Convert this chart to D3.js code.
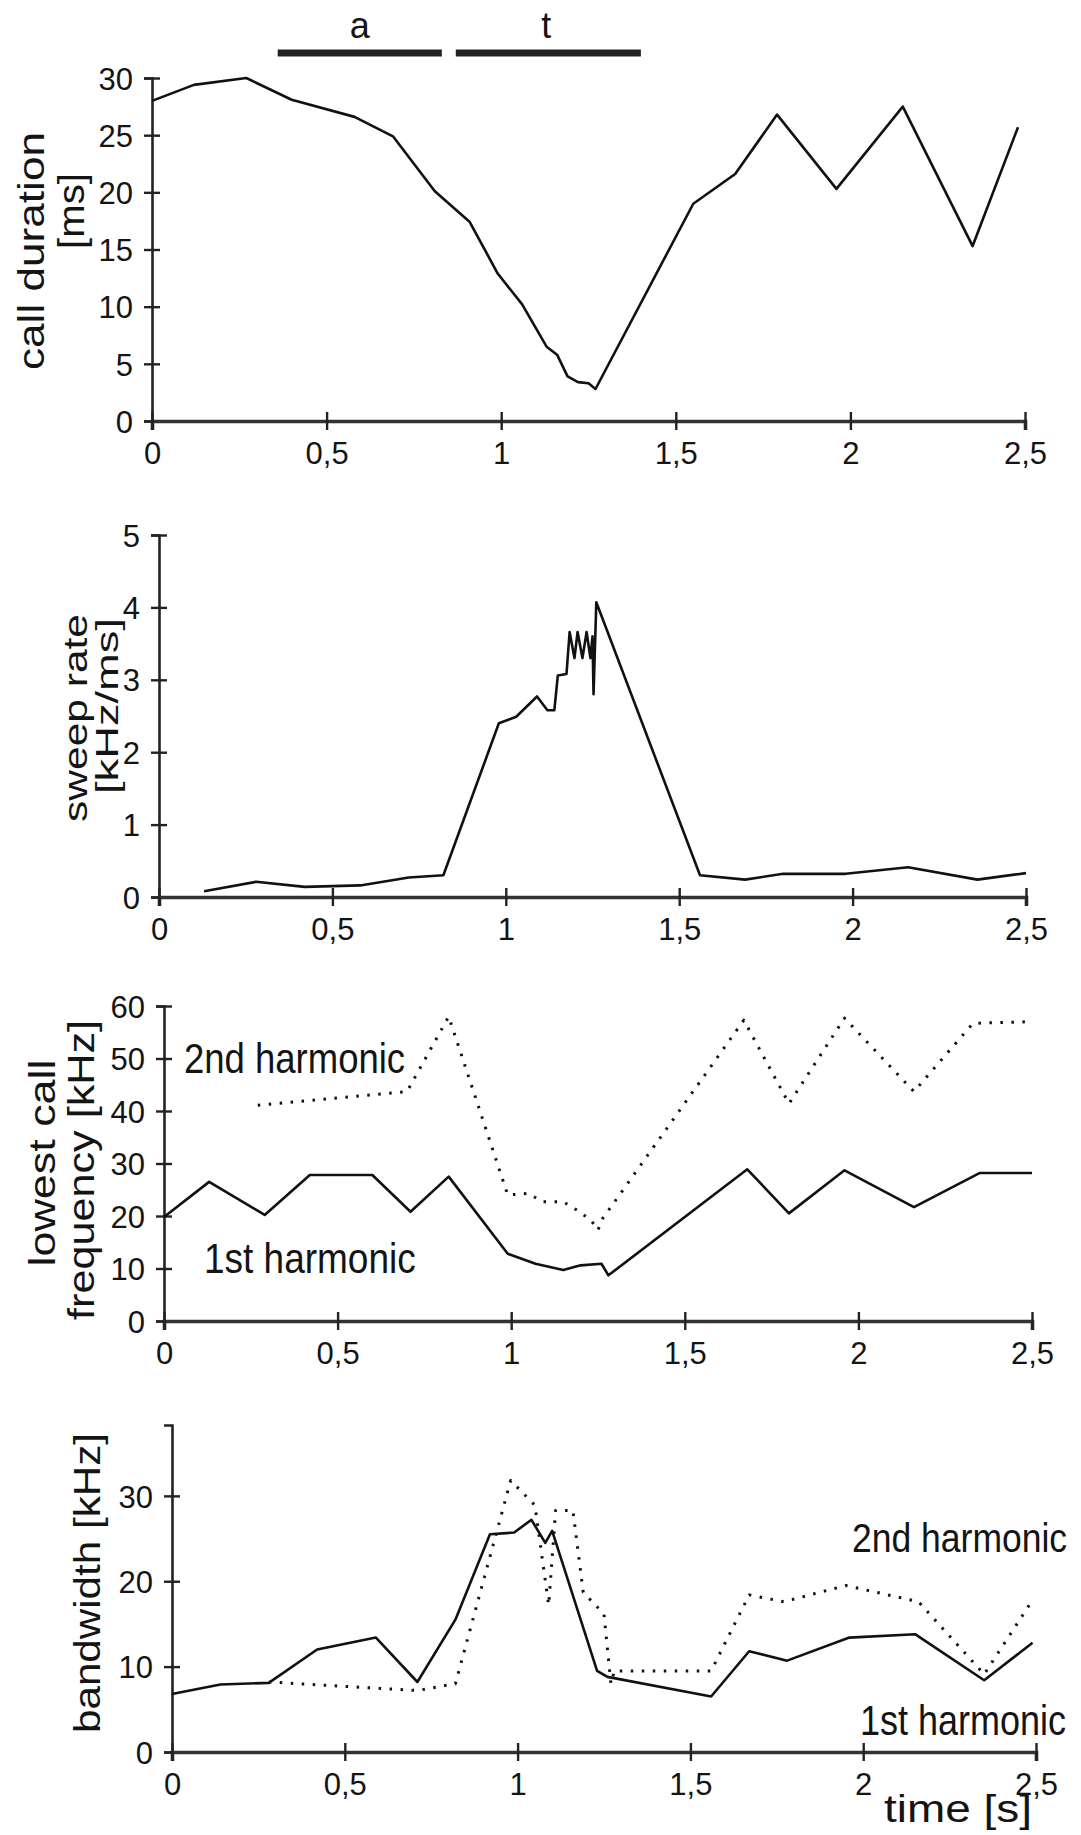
<!DOCTYPE html>
<html>
<head>
<meta charset="utf-8">
<script src="https://cdn.jsdelivr.net/npm/d3@7"></script>
<style>
  html, body { margin: 0; padding: 0; background: #fff; }
  svg { display: block; }
  text { font-family: "Liberation Sans", Arial, sans-serif; fill: #141414; }
</style>
</head>
<body>
<svg id="chart" width="1081" height="1835"></svg>
<script>
// ---------------- DATA ----------------
const xTicks = [0, 0.5, 1, 1.5, 2, 2.5];
const xTickLabels = ["0", "0,5", "1", "1,5", "2", "2,5"];

const durationTicks = [0, 5, 10, 15, 20, 25, 30];
const sweepTicks = [0, 1, 2, 3, 4, 5];
const freqTicks = [0, 10, 20, 30, 40, 50, 60];
const bandwidthTicks = [0, 10, 20, 30];

// phases shown above the first panel: [start, end] in s
const phaseNames = ["a", "t"];
const phaseStart = [0.36, 0.87];
const phaseEnd = [0.83, 1.40];

// call duration [ms] vs time [s]
const callDuration = [
  [0, 28.0], [0.12, 29.4], [0.27, 30.0], [0.40, 28.1], [0.58, 26.6], [0.69, 24.9],
  [0.81, 20.1], [0.91, 17.4], [0.99, 12.9], [1.06, 10.2], [1.13, 6.5], [1.16, 5.8],
  [1.19, 3.9], [1.22, 3.4], [1.25, 3.3], [1.27, 2.8], [1.55, 19.0], [1.67, 21.6],
  [1.79, 26.8], [1.96, 20.3], [2.15, 27.5], [2.35, 15.3], [2.48, 25.7]
];

// sweep rate [kHz/ms]
const sweepRate = [
  [0.13, 0.08], [0.28, 0.21], [0.42, 0.14], [0.58, 0.16], [0.72, 0.27], [0.82, 0.30],
  [0.98, 2.40], [1.03, 2.49], [1.09, 2.77], [1.12, 2.58], [1.14, 2.58], [1.15, 3.06],
  [1.175, 3.08], [1.184, 3.66], [1.198, 3.30], [1.207, 3.66], [1.221, 3.30],
  [1.233, 3.66], [1.244, 3.30], [1.25, 3.60], [1.253, 2.80], [1.261, 4.07],
  [1.56, 0.30], [1.69, 0.24], [1.80, 0.32], [1.98, 0.32], [2.16, 0.41], [2.36, 0.24], [2.50, 0.33]
];

// lowest call frequency [kHz]
const freq1st = [
  [0, 19.8], [0.13, 26.5], [0.29, 20.2], [0.42, 27.8], [0.60, 27.8], [0.71, 20.8],
  [0.82, 27.5], [0.99, 12.8], [1.07, 10.9], [1.15, 9.7], [1.20, 10.6], [1.26, 10.9],
  [1.28, 8.7], [1.68, 28.9], [1.80, 20.5], [1.96, 28.7], [2.16, 21.7], [2.35, 28.2], [2.50, 28.2]
];
const freq2nd = [
  [0.27, 41.1], [0.70, 43.7], [0.82, 58.0], [0.99, 24.0], [1.05, 24.3], [1.09, 22.7],
  [1.15, 22.7], [1.19, 21.1], [1.23, 19.2], [1.25, 17.3], [1.26, 19.2], [1.67, 57.3],
  [1.80, 41.4], [1.96, 57.7], [2.16, 43.7], [2.33, 56.7], [2.49, 57.0]
];

// bandwidth [kHz]
const bw1st = [
  [0, 6.8], [0.14, 7.9], [0.28, 8.1], [0.42, 12.0], [0.59, 13.4], [0.71, 8.2],
  [0.82, 15.5], [0.92, 25.5], [0.99, 25.7], [1.04, 27.2], [1.08, 24.5], [1.10, 25.9],
  [1.23, 9.5], [1.26, 8.8], [1.56, 6.5], [1.67, 11.8], [1.78, 10.7], [1.96, 13.4],
  [2.15, 13.8], [2.35, 8.4], [2.49, 12.8]
];
const bw2nd = [
  [0.28, 8.2], [0.71, 7.2], [0.82, 8.0], [0.98, 31.8], [1.05, 28.9], [1.09, 17.2],
  [1.11, 28.3], [1.16, 28.3], [1.19, 18.7], [1.23, 17.0], [1.25, 16.1], [1.27, 8.0],
  [1.28, 9.5], [1.56, 9.5], [1.67, 18.4], [1.77, 17.6], [1.95, 19.5], [2.16, 17.6],
  [2.35, 9.1], [2.49, 17.8]
];

// ---------------- DRAWING ----------------
const svg = d3.select("#chart");
const fmtX = d => xTickLabels[xTicks.indexOf(d)];
const fmtY = d => String(d);

function panel(cfg) {
  const x = d3.scaleLinear().domain([0, 2.5]).range([cfg.x0, cfg.x1]);
  const y = d3.scaleLinear().domain([0, cfg.yMax]).range([cfg.y0, cfg.y1]);
  const g = svg.append("g");

  // y axis
  const ya = g.append("g").attr("transform", `translate(${cfg.x0},0)`)
    .call(d3.axisLeft(y).tickValues(cfg.yTicks).tickFormat(fmtY).tickSizeOuter(0).tickSize(8).tickPadding(0));
  ya.select(".domain").attr("stroke", "#222").attr("stroke-width", 2.6);
  ya.selectAll(".tick line").attr("x1", -8).attr("x2", 8).attr("stroke", "#222").attr("stroke-width", 2.4);
  ya.selectAll(".tick text").attr("x", -19).attr("dy", "0.36em")
    .style("font-size", "31px").style("font-family", "'Liberation Sans', Arial, sans-serif").attr("fill", "#141414");

  // x axis
  const xa = g.append("g").attr("transform", `translate(0,${cfg.y0})`)
    .call(d3.axisBottom(x).tickValues(xTicks).tickFormat(fmtX).tickSizeOuter(0).tickSize(9).tickPadding(0));
  xa.select(".domain").attr("stroke", "#333").attr("stroke-width", 3.6);
  xa.selectAll(".tick line").attr("y1", -9).attr("y2", 9).attr("stroke", "#222").attr("stroke-width", 2.4);
  xa.selectAll(".tick text").attr("y", 43).attr("dy", 0)
    .style("font-size", "31px").style("font-family", "'Liberation Sans', Arial, sans-serif").attr("fill", "#141414");

  const line = d3.line().x(d => x(d[0])).y(d => y(d[1]));
  cfg.series.forEach(s => {
    g.append("path").datum(s.data).attr("d", line).attr("fill", "none")
      .attr("stroke", "#111").attr("stroke-width", s.dotted ? 3 : 2.6)
      .attr("stroke-linejoin", "round")
      .attr("stroke-dasharray", s.dotted ? "2.5 8.5" : null);
  });

  // y-axis titles (rotated)
  cfg.titles.forEach(t => {
    g.append("text")
      .attr("transform", `translate(${t.bx},${t.cy}) rotate(-90)`)
      .attr("text-anchor", "middle")
      .attr("textLength", t.len).attr("lengthAdjust", "spacingAndGlyphs")
      .style("font-size", (t.size || 36) + "px")
      .text(t.text);
  });

  // series labels: tall, condensed look
  (cfg.labels || []).forEach(l => {
    g.append("text")
      .attr("transform", `translate(${l.x},${l.y}) scale(1,1.16)`)
      .style("font-size", l.size + "px")
      .text(l.text);
  });
  return { x, y, g };
}

// Panel 1: call duration
const p1 = panel({
  x0: 152, x1: 1025, y0: 421, y1: 78, yMax: 30, yTicks: durationTicks,
  series: [{ data: callDuration }],
  titles: [
    { text: "call duration", bx: 44, cy: 251, len: 238 },
    { text: "[ms]", bx: 84, cy: 211, len: 76 }
  ]
});
// phase bars above panel 1
phaseNames.forEach((n, i) => {
  p1.g.append("line")
    .attr("x1", p1.x(phaseStart[i])).attr("x2", p1.x(phaseEnd[i]))
    .attr("y1", 53).attr("y2", 53)
    .attr("stroke", "#222").attr("stroke-width", 7);
  p1.g.append("text")
    .attr("x", p1.x((phaseStart[i] + phaseEnd[i]) / 2) + (i === 0 ? 0 : -2))
    .attr("y", 38).attr("text-anchor", "middle")
    .style("font-size", "36px").text(n);
});

// Panel 2: sweep rate
panel({
  x0: 159, x1: 1026, y0: 897, y1: 535, yMax: 5, yTicks: sweepTicks,
  series: [{ data: sweepRate }],
  titles: [
    { text: "sweep rate", bx: 87, cy: 718, len: 208, size: 33 },
    { text: "[kHz/ms]", bx: 118, cy: 706, len: 176, size: 31 }
  ]
});

// Panel 3: lowest call frequency
panel({
  x0: 164, x1: 1032, y0: 1321, y1: 1006, yMax: 60, yTicks: freqTicks,
  series: [{ data: freq1st }, { data: freq2nd, dotted: true }],
  titles: [
    { text: "lowest call", bx: 55, cy: 1163, len: 207 },
    { text: "frequency [kHz]", bx: 94, cy: 1170, len: 300 }
  ],
  labels: [
    { text: "2nd harmonic", x: 184, y: 1073, size: 36.5 },
    { text: "1st harmonic", x: 204, y: 1273, size: 37 }
  ]
});

// Panel 4: bandwidth
panel({
  x0: 172, x1: 1036, y0: 1752, y1: 1425, yMax: 38.3, yTicks: bandwidthTicks,
  series: [{ data: bw1st }, { data: bw2nd, dotted: true }],
  titles: [
    { text: "bandwidth [kHz]", bx: 100, cy: 1583, len: 300 }
  ],
  labels: [
    { text: "2nd harmonic", x: 852, y: 1552, size: 35.5 },
    { text: "1st harmonic", x: 860, y: 1735, size: 36 }
  ]
});

// x-axis title
svg.append("text").attr("x", 884).attr("y", 1822)
  .attr("textLength", 148).attr("lengthAdjust", "spacingAndGlyphs")
  .style("font-size", "38px").text("time [s]");
</script>
</body>
</html>
